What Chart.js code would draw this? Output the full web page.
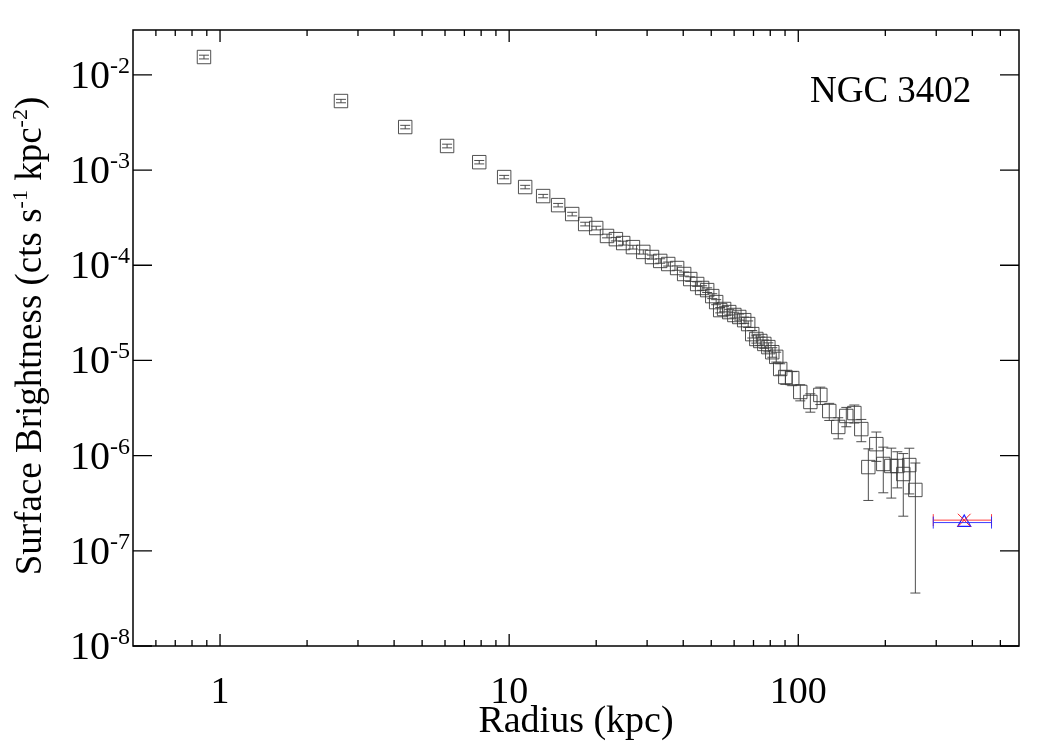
<!DOCTYPE html>
<html>
<head>
<meta charset="utf-8">
<title>NGC 3402 surface brightness profile</title>
<script src="https://cdn.jsdelivr.net/npm/chart.js@4.4.1/dist/chart.umd.min.js"></script>
<style>
  html, body { margin: 0; padding: 0; background: #fff; }
  #wrap { width: 1050px; height: 750px; }
</style>
</head>
<body>
<div id="wrap"><canvas id="sbChart" width="1050" height="750"></canvas></div>
<script>
// radius of each annulus (kpc)
const radius = [0.88, 2.62, 4.37, 6.10, 7.88, 9.61, 11.36, 13.11, 14.77, 16.52,
  18.32, 20.0, 21.8, 23.4, 24.8, 26.8, 29.1, 31.2, 33.3, 35.5,
  38.1, 40.3, 42.3, 44.7, 46.5, 48.4, 50.4, 52.0, 53.7, 55.4,
  57.7, 60.1, 62.5, 65.0, 67.1, 69.3, 71.6, 73.9, 76.3, 78.8,
  81.3, 83.9, 86.6, 90.2, 95.3, 101.6, 110.1, 119.2, 128.0, 137.5,
  146.6, 156.3, 165.2, 174.7, 186.2, 196.8, 209.8, 220.1, 230.8, 242.1,
  254.1];
// surface brightness (cts s^-1 kpc^-2)
const brightness = [1.54e-2, 5.31e-3, 2.83e-3, 1.79e-3, 1.21e-3, 8.44e-4, 6.63e-4, 5.33e-4, 4.28e-4, 3.45e-4,
  2.71e-4, 2.46e-4, 2.03e-4, 1.88e-4, 1.71e-4, 1.55e-4, 1.38e-4, 1.22e-4, 1.11e-4, 1.03e-4,
  9.35e-5, 8.09e-5, 7.16e-5, 6.35e-5, 5.77e-5, 5.48e-5, 4.74e-5, 4.10e-5, 3.38e-5, 3.47e-5,
  3.22e-5, 3.00e-5, 2.86e-5, 2.65e-5, 2.41e-5, 1.89e-5, 1.68e-5, 1.60e-5, 1.49e-5, 1.38e-5,
  1.22e-5, 1.09e-5, 8.13e-6, 6.70e-6, 6.53e-6, 4.66e-6, 3.66e-6, 4.34e-6, 2.94e-6, 2.00e-6,
  2.61e-6, 2.80e-6, 1.90e-6, 7.58e-7, 1.32e-6, 8.17e-7, 7.78e-7, 7.78e-7, 6.41e-7, 7.96e-7,
  4.36e-7];
// 1 sigma errors
const brightnessErr = [7e-4, 2.2e-4, 1.2e-4, 8e-5, 5e-5, 3.5e-5, 2.8e-5, 2.2e-5, 1.8e-5, 1.5e-5,
  1.2e-5, 1.1e-5, 9e-6, 8e-6, 8e-6, 7e-6, 7e-6, 6e-6, 6e-6, 5e-6,
  5e-6, 4e-6, 4e-6, 3.5e-6, 3.2e-6, 3.1e-6, 2.8e-6, 2.5e-6, 2.2e-6, 2.3e-6,
  2.2e-6, 2.1e-6, 2.1e-6, 2e-6, 1.9e-6, 1.7e-6, 1.6e-6, 1.6e-6, 1.5e-6, 1.5e-6,
  1.4e-6, 1.3e-6, 1.1e-6, 1.1e-6, 1.1e-6, 9e-7, 8e-7, 9e-7, 6e-7, 5e-7,
  6e-7, 6e-7, 5e-7, 4.2e-7, 4.5e-7, 4.1e-7, 4.2e-7, 3.2e-7, 4.1e-7, 4.0e-7,
  4.0e-7];

// background bin (red and blue estimates)
const bkgRadius = [375];
const bkgRadiusLo = [293];
const bkgRadiusHi = [466];
const bkgRed = [2.1e-7];
const bkgBlue = [1.98e-7];

// tick labels
const xTickValues = [1, 10, 100];
const xTickLabels = ['1', '10', '100'];
const yTickExps = [-8, -7, -6, -5, -4, -3, -2];

const serif = "'Liberation Serif', 'DejaVu Serif', serif";

// draw text made of normal and superscript parts, starting at x
function drawParts(ctx, parts, x, y, size, supSize, raise) {
  parts.forEach(p => {
    ctx.font = (p.sup ? supSize : size) + 'px ' + serif;
    ctx.fillText(p.t, x, p.sup ? y - raise : y);
    x += ctx.measureText(p.t).width;
  });
}
function partsWidth(ctx, parts, size, supSize) {
  let w = 0;
  parts.forEach(p => {
    ctx.font = (p.sup ? supSize : size) + 'px ' + serif;
    w += ctx.measureText(p.t).width;
  });
  return w;
}

// error bars for the profile and the background bin
const errorBars = {
  id: 'errorBars',
  afterDatasetsDraw(chart) {
    const ctx = chart.ctx;
    const xs = chart.scales.x, ys = chart.scales.y;
    ctx.save();
    ctx.lineWidth = 1;
    ctx.strokeStyle = 'rgba(60,60,60,0.9)';
    radius.forEach((r, i) => {
      const px = xs.getPixelForValue(r);
      const yTop = ys.getPixelForValue(brightness[i] + brightnessErr[i]);
      const yBot = ys.getPixelForValue(Math.max(brightness[i] - brightnessErr[i], ys.min));
      ctx.beginPath();
      ctx.moveTo(px, yTop); ctx.lineTo(px, yBot);
      ctx.moveTo(px - 5, yTop); ctx.lineTo(px + 5, yTop);
      ctx.moveTo(px - 5, yBot); ctx.lineTo(px + 5, yBot);
      ctx.stroke();
    });
    // horizontal bars of the background bin
    [[bkgRed, 'rgba(255,40,40,0.9)'], [bkgBlue, 'rgba(40,40,255,0.9)']].forEach(([vals, col]) => {
      ctx.strokeStyle = col;
      const py = ys.getPixelForValue(vals[0]);
      const x1 = xs.getPixelForValue(bkgRadiusLo[0]);
      const x2 = xs.getPixelForValue(bkgRadiusHi[0]);
      ctx.beginPath();
      ctx.moveTo(x1, py); ctx.lineTo(x2, py);
      ctx.moveTo(x1, py - 6); ctx.lineTo(x1, py + 6);
      ctx.moveTo(x2, py - 6); ctx.lineTo(x2, py + 6);
      ctx.stroke();
    });
    ctx.restore();
  }
};

// frame, inward ticks and all the text
const frameAndText = {
  id: 'frameAndText',
  afterDraw(chart) {
    const ctx = chart.ctx;
    const a = chart.chartArea;
    const xs = chart.scales.x, ys = chart.scales.y;
    ctx.save();
    ctx.strokeStyle = '#000';
    ctx.lineWidth = 1.5;
    ctx.strokeRect(a.left, a.top, a.right - a.left, a.bottom - a.top);

    ctx.lineWidth = 1.3;
    ctx.beginPath();
    for (let d = -1; d <= 2; d++) {
      for (let k = 1; k <= 9; k++) {
        const v = k * Math.pow(10, d);
        if (v <= xs.min || v >= xs.max) continue;
        const px = xs.getPixelForValue(v);
        const len = k === 1 ? 12 : 6;
        ctx.moveTo(px, a.bottom); ctx.lineTo(px, a.bottom - len);
        ctx.moveTo(px, a.top); ctx.lineTo(px, a.top + len);
      }
    }
    yTickExps.forEach(e => {
      const py = ys.getPixelForValue(Math.pow(10, e));
      ctx.moveTo(a.left, py); ctx.lineTo(a.left + 19, py);
      ctx.moveTo(a.right, py); ctx.lineTo(a.right - 19, py);
    });
    ctx.stroke();

    ctx.fillStyle = '#000';
    ctx.textBaseline = 'alphabetic';
    // x tick labels
    ctx.textAlign = 'center';
    ctx.font = '38px ' + serif;
    xTickValues.forEach((v, i) => {
      ctx.fillText(xTickLabels[i], xs.getPixelForValue(v), a.bottom + 57);
    });
    // x title
    ctx.fillText('Radius (kpc)', (a.left + a.right) / 2, a.bottom + 86);

    // y tick labels 10^n
    ctx.textAlign = 'left';
    yTickExps.forEach(e => {
      const py = ys.getPixelForValue(Math.pow(10, e));
      const parts = [{ t: '10' }, { t: '-' + Math.abs(e), sup: true }];
      const w = partsWidth(ctx, parts, 40, 24);
      drawParts(ctx, parts, a.left - 3 - w, py + 13, 40, 24, 15);
    });

    // y title, rotated
    const title = [{ t: 'Surface Brightness (cts s' }, { t: '-1', sup: true },
      { t: ' kpc' }, { t: '-2', sup: true }, { t: ')' }];
    const tw = partsWidth(ctx, title, 37, 22);
    ctx.translate(41, (a.top + a.bottom) / 2 - 2);
    ctx.rotate(-Math.PI / 2);
    drawParts(ctx, title, -tw / 2, 0, 37, 22, 14);
    ctx.restore();

    // object name
    ctx.save();
    ctx.fillStyle = '#000';
    ctx.font = '37px ' + serif;
    ctx.textAlign = 'left';
    ctx.fillText('NGC 3402', 810, 102);
    ctx.restore();
  }
};

const ctx = document.getElementById('sbChart').getContext('2d');
const sbChart = new Chart(ctx, {
  type: 'scatter',
  data: {
    datasets: [
      {
        label: 'Profile',
        data: radius.map((r, i) => ({ x: r, y: brightness[i] })),
        pointStyle: 'rect',
        pointRadius: 9.5,
        borderWidth: 1,
        borderColor: 'rgba(50,50,50,0.85)',
        backgroundColor: 'rgba(0,0,0,0)'
      },
      {
        label: 'Background red',
        data: bkgRadius.map((r, i) => ({ x: r, y: bkgRed[i] })),
        pointStyle: 'crossRot',
        pointRadius: 9,
        borderWidth: 1,
        borderColor: 'rgb(255,30,30)'
      },
      {
        label: 'Background blue',
        data: bkgRadius.map((r, i) => ({ x: r, y: bkgBlue[i] })),
        pointStyle: 'triangle',
        pointRadius: 7.5,
        borderWidth: 1.2,
        borderColor: 'rgb(30,30,255)',
        backgroundColor: 'rgba(0,0,0,0)'
      }
    ]
  },
  options: {
    responsive: false,
    devicePixelRatio: 1,
    animation: false,
    events: [],
    layout: { padding: { left: 133, right: 31, top: 30, bottom: 104 } },
    plugins: {
      legend: { display: false },
      tooltip: { enabled: false }
    },
    scales: {
      x: { type: 'logarithmic', min: 0.5, max: 580, display: false },
      y: { type: 'logarithmic', min: 1e-8, max: 0.0296, display: false }
    }
  },
  plugins: [errorBars, frameAndText]
});
</script>
</body>
</html>
